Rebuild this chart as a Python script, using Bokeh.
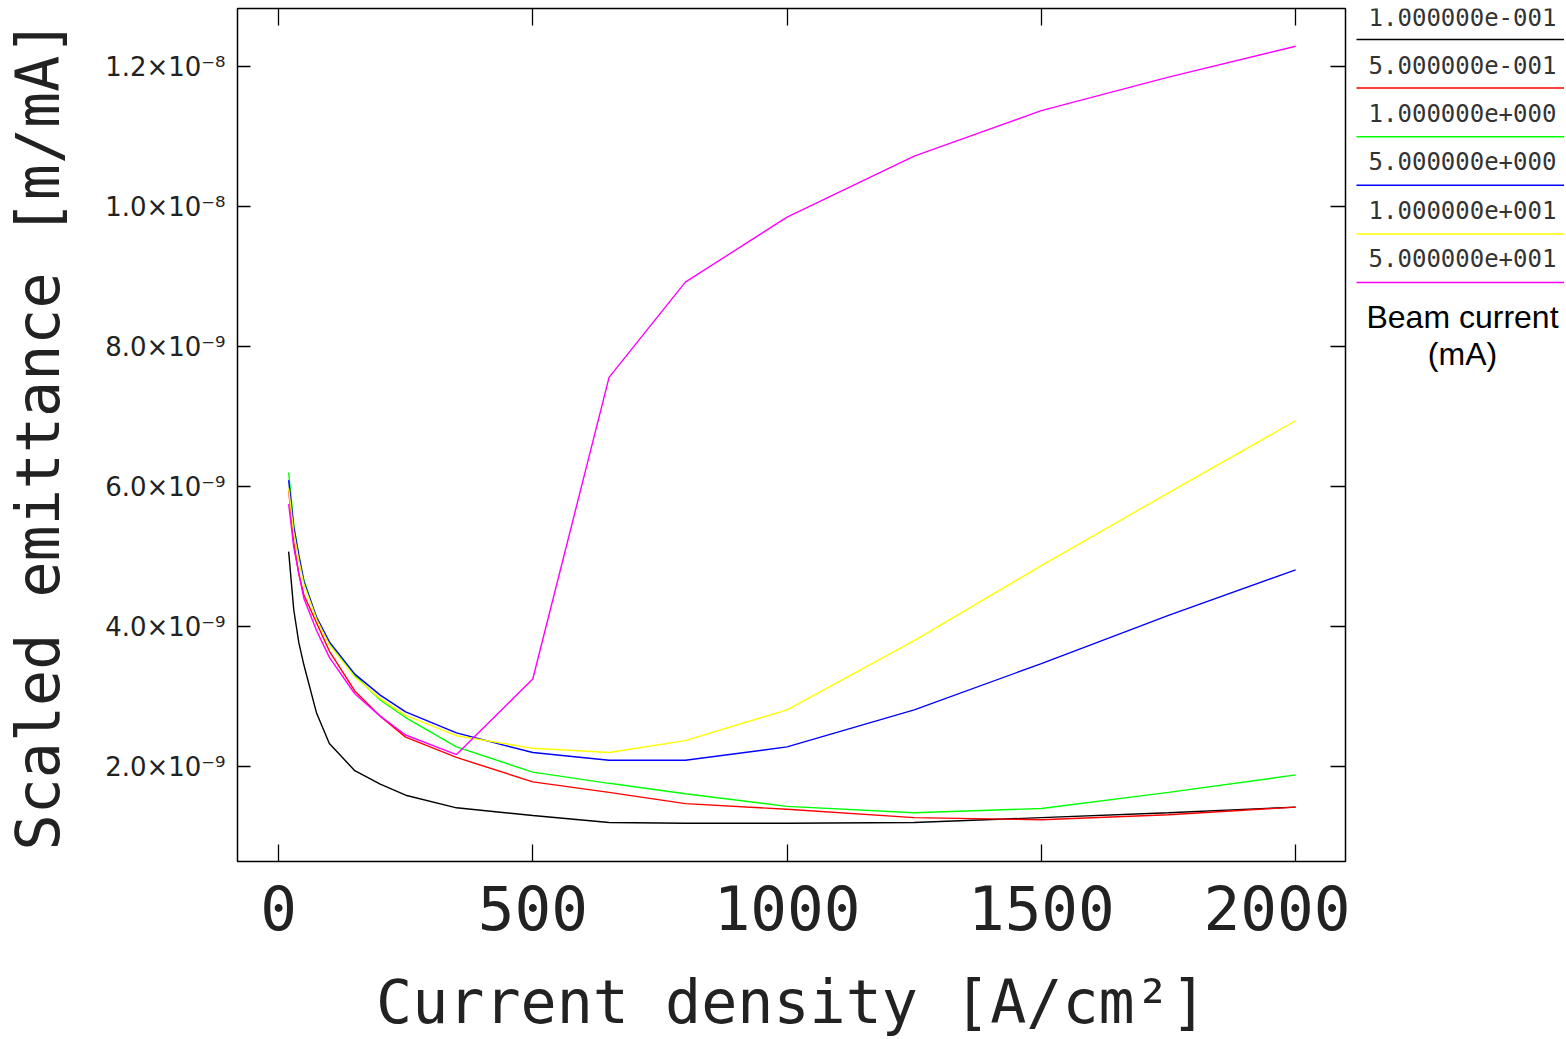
from bokeh.plotting import figure
from bokeh.models import Range1d, LinearAxis, FixedTicker, CustomLabelingPolicy
from bokeh.layouts import row
from bokeh.embed import file_html
from bokeh.resources import INLINE
from bokeh.core.properties import value

# Current density [A/cm^2]
current_density = [20, 30, 40, 50, 75, 100, 150, 200, 250, 350, 500, 650, 800,
                   1000, 1250, 1500, 1750, 2000]

# Scaled emittance, in units of 1e-9 m/mA, one list per beam current (mA)
emit_0p1 = [5.07, 4.24, 3.77, 3.45, 2.76, 2.33, 1.94, 1.75, 1.59, 1.41, 1.30, 1.20, 1.19,
            1.19, 1.20, 1.27, 1.34, 1.42]
emit_0p5 = [5.95, 5.20, 4.75, 4.45, 4.05, 3.65, 3.08, 2.72, 2.42, 2.13, 1.78, 1.63, 1.47,
            1.39, 1.27, 1.24, 1.31, 1.42]
emit_1 = [6.20, 5.45, 5.00, 4.66, 4.12, 3.76, 3.30, 2.95, 2.70, 2.28, 1.92, 1.76, 1.61,
          1.43, 1.34, 1.40, 1.63, 1.88]
emit_5 = [6.09, 5.42, 5.02, 4.64, 4.13, 3.78, 3.32, 3.02, 2.78, 2.48, 2.20, 2.09, 2.09,
          2.28, 2.81, 3.47, 4.16, 4.81]
emit_10 = [5.97, 5.34, 4.94, 4.60, 4.10, 3.74, 3.28, 2.97, 2.73, 2.44, 2.26, 2.20, 2.37,
           2.81, 3.80, 4.87, 5.91, 6.94]
emit_50 = [5.75, 5.13, 4.76, 4.40, 3.94, 3.56, 3.04, 2.72, 2.45, 2.17, 3.25, 7.56, 8.92,
           9.85, 10.72, 11.37, 11.85, 12.29]

series = [emit_0p1, emit_0p5, emit_1, emit_5, emit_10, emit_50]
beam_labels = ["1.000000e-001", "5.000000e-001", "1.000000e+000",
               "5.000000e+000", "1.000000e+001", "5.000000e+001"]
colors = ["#000000", "#ff0000", "#00ff00", "#0000ff", "#ffff00", "#ff00ff"]

x_ticks = [0, 500, 1000, 1500, 2000]
x_tick_labels = ["0", "500", "1000", "1500", "2000"]
y_ticks = [2, 4, 6, 8, 10, 12]
y_tick_labels = ["2.0×10⁻⁹", "4.0×10⁻⁹", "6.0×10⁻⁹", "8.0×10⁻⁹", "1.0×10⁻⁸", "1.2×10⁻⁸"]

H = 1039
TXT = "#222222"
FONT = "DejaVu Sans"
MONO = "DejaVu Sans Mono"

p = figure(width=1350, height=H, x_range=Range1d(-80.6, 2098), y_range=Range1d(0.643, 12.83),
           output_backend="svg", toolbar_location=None,
           min_border_left=237, min_border_right=5, min_border_top=8, min_border_bottom=176)
p.xgrid.visible = False
p.ygrid.visible = False
p.outline_line_color = "black"
p.outline_line_width = 1.5
p.background_fill_color = "white"

xa = p.xaxis[0]
xa.ticker = FixedTicker(ticks=x_ticks)
xa.major_label_overrides = dict(zip(x_ticks, x_tick_labels))
xa.major_label_text_font = MONO
xa.major_label_text_font_size = "61px"
xa.major_label_text_color = TXT
xa.major_label_standoff = 23
xa.axis_label = "Current density [A/cm²]"
xa.axis_label_text_font = MONO
xa.axis_label_text_font_size = "60px"
xa.axis_label_text_font_style = "normal"
xa.axis_label_text_color = TXT
xa.axis_label_standoff = 34

ya = p.yaxis[0]
ya.ticker = FixedTicker(ticks=y_ticks)
ya.major_label_overrides = dict(zip(y_ticks, y_tick_labels))
ya.major_label_text_font = FONT
ya.major_label_text_font_size = "26px"
ya.major_label_text_color = TXT
ya.major_label_text_baseline = "bottom"
ya.major_label_standoff = 12
ya.axis_label = "Scaled emittance [m/mA]"
ya.axis_label_text_font = MONO
ya.axis_label_text_font_size = "60px"
ya.axis_label_text_font_style = "normal"
ya.axis_label_text_color = TXT
ya.axis_label_standoff = 29

no_labels = "for (const i of indices) { indices.unset(i) }\nreturn indices"
top_axis = LinearAxis(ticker=FixedTicker(ticks=x_ticks), major_label_text_font_size="0px",
                      major_label_standoff=0,
                      major_label_policy=CustomLabelingPolicy(code=no_labels))
right_axis = LinearAxis(ticker=FixedTicker(ticks=y_ticks), major_label_text_font_size="0px",
                        major_label_standoff=0,
                        major_label_policy=CustomLabelingPolicy(code=no_labels))
p.add_layout(top_axis, "above")
p.add_layout(right_axis, "right")

for ax, tin in ((xa, 17), (top_axis, 17), (ya, 13), (right_axis, 15)):
    ax.major_tick_in = tin
    ax.major_tick_out = 0
    ax.minor_tick_in = 0
    ax.minor_tick_out = 0
    ax.axis_line_color = None
    ax.major_tick_line_color = "black"
    ax.major_tick_line_width = 1.3

for ys, c in zip(series, colors):
    p.line(current_density, ys, line_color=c, line_width=1.4)

# Legend panel (its frame is aligned with the main plot frame: page y 8..861)
LW = 214
lg = figure(width=LW, height=H, x_range=Range1d(0, LW), y_range=Range1d(861, 8),
            output_backend="svg", toolbar_location=None, min_border=0,
            x_axis_location=None, y_axis_location=None)
lg.outline_line_color = None
lg.xgrid.visible = False
lg.ygrid.visible = False

n = len(beam_labels)
text_y = [16 + 48.3 * i for i in range(n)]
line_y = [39 + 48.6 * i for i in range(n)]
lg.text(x=[112] * n, y=text_y, text=beam_labels, text_align="center", text_baseline="middle",
        text_font=value(MONO), text_font_size="24px", text_color="#333333")
lg.segment(x0=[6] * n, y0=line_y, x1=[LW] * n, y1=line_y, line_color=colors, line_width=1.5)
lg.text(x=[112, 112], y=[316, 353], text=["Beam current", "(mA)"], text_align="center",
        text_baseline="middle", text_font=value("Liberation Sans"), text_font_size="32px",
        text_color="black")

layout = row(p, lg)
open("out.html", "w").write(file_html(layout, INLINE))
